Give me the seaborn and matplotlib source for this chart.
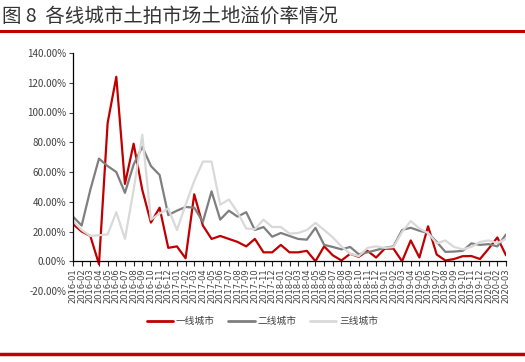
import numpy as np
import pandas as pd
import matplotlib
matplotlib.use('Agg')
import matplotlib.pyplot as plt
import seaborn as sns
from matplotlib.lines import Line2D
from matplotlib.ticker import FuncFormatter

# Monthly labels 2016-01 .. 2020-03
months = [f'{y}-{m:02d}' for y in range(2016, 2021) for m in range(1, 13)][:51]

# Land premium rate (%)
tier1 = [25, 20, 17, -2, 93, 124, 52, 79, 48, 26, 36, 9, 10, 2, 45, 24, 15, 17, 15, 13,
         10, 15, 6, 6, 11, 6, 6, 7, 0, 10, 4, 0.5, 5, 3, 7, 2.5, 8.5, 8.5, 0, 14,
         2.5, 23.5, 4.5, 0.5, 1.5, 3.4, 3.5, 1.5, 8.5, 16, 4]
tier2 = [30, 24, 48, 69, 64, 60, 46, 65, 77, 64, 58, 31, 34, 36.5, 36, 26.5, 47, 28, 34, 30,
         33, 21, 23, 16.5, 19, 17, 15, 14.5, 22.5, 11, 9.6, 8, 9.6, 4.7, 6, 7.5, 9, 10, 21, 22.5,
         20.5, 19, 13, 6.3, 6.5, 7, 12, 11, 11.5, 10, 18]
tier3 = [27, 21, 17, 17.5, 18, 33, 15, 48, 85, 28, 32, 35.5, 21, 38, 54, 67, 67, 38, 41.5, 33,
         22, 21.5, 28, 23, 23, 18.6, 19, 21, 25.8, 21, 16, 10, 5, 3.4, 9, 10, 9, 9.5, 19.7, 27,
         22, 19, 12, 14, 9.6, 8, 9.6, 13, 14, 12.3, 15]
series_names = ['一线城市', '二线城市', '三线城市']
colors = ['#C00000', '#7F7F7F', '#D9D9D9']

df = pd.DataFrame({
    'idx': list(range(len(months))) * 3,
    'value': tier1 + tier2 + tier3,
    'city': [n for n in series_names for _ in months],
})

sns.set_style('white')
plt.rcParams['font.family'] = ['Noto Sans CJK SC', 'DejaVu Sans']

fig = plt.figure(figsize=(5.25, 3.62), dpi=100)
ax = fig.add_axes([73 / 525, 1 - 291 / 362, (506 - 73) / 525, (291 - 53) / 362])

sns.lineplot(data=df, x='idx', y='value', hue='city', hue_order=series_names,
             palette=colors, linewidth=1.6, ax=ax, legend=False)

# axis line at 0 (must be set before tick labels, it resets ticks)
for s in ['top', 'right']:
    ax.spines[s].set_visible(False)
ax.spines['bottom'].set_position(('data', 0))
ax.spines['bottom'].set_color('black')
ax.spines['left'].set_color('black')
ax.spines['left'].set_bounds(0, 140)
ax.spines['bottom'].set_linewidth(0.9)
ax.spines['left'].set_linewidth(0.9)

ax.set_xlim(0, len(months) - 1)
ax.set_ylim(-20, 140)
ax.set_yticks(range(-20, 141, 20))
ax.yaxis.set_major_formatter(FuncFormatter(lambda v, p: f'{v:.2f}%'))
ax.set_xticks(range(len(months)))
ax.set_xticklabels(months, rotation=90, fontsize=6, color='#404040', family='DejaVu Sans')
ax.tick_params(axis='y', labelsize=7, colors='#404040', length=3, width=0.8, pad=2, left=True)
ax.tick_params(axis='x', length=3.5, width=0.8, pad=1.5, bottom=True, direction='out')
ax.set_xlabel('')
ax.set_ylabel('')
ax.grid(False)

handles = [Line2D([0], [0], color=c, lw=2) for c in colors]
fig.legend(handles, series_names, loc='center', bbox_to_anchor=(0.5, 1 - 321 / 362),
           ncol=3, frameon=False, fontsize=7, handlelength=2.7, columnspacing=1.4,
           handletextpad=0.3, labelcolor='#404040')

fig.text(0.004, 1 - 16 / 362, '图 8  各线城市土拍市场土地溢价率情况', fontsize=14,
         va='center', ha='left', color='#333333', fontweight='light')
fig.add_artist(Line2D([0, 1], [1 - 31 / 362] * 2, transform=fig.transFigure,
                      color='#C00000', lw=2.2))
fig.add_artist(Line2D([0, 1], [1 - 354 / 362] * 2, transform=fig.transFigure,
                      color='#C00000', lw=2.5))

fig.savefig('out.png', dpi=100)
